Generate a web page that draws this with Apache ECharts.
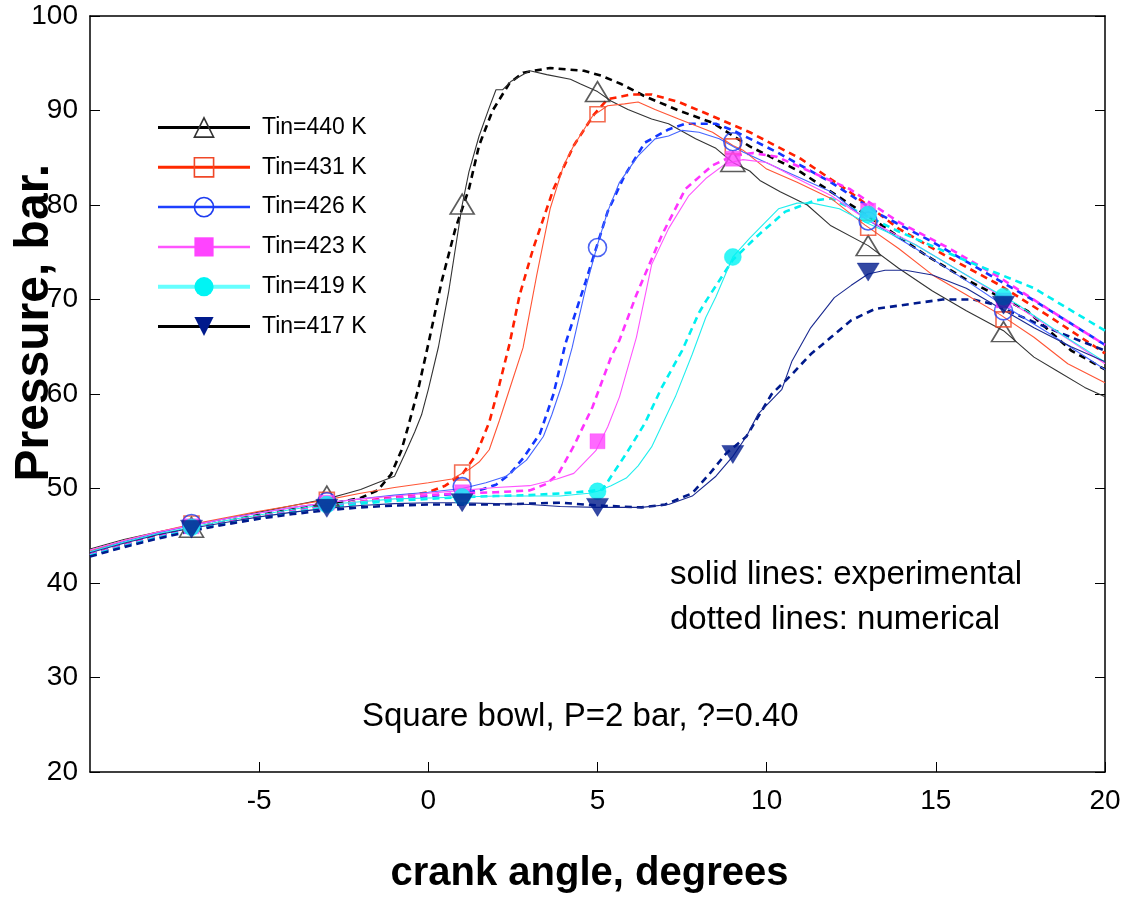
<!DOCTYPE html>
<html>
<head>
<meta charset="utf-8">
<script src="https://cdn.jsdelivr.net/npm/echarts@6/dist/echarts.min.js"></script>
<style>
html,body{margin:0;padding:0;background:#fff;}
#chart{width:1128px;height:899px;}
</style>
</head>
<body>
<div id="chart"></div>
<script>
// ---------- DATA ----------
const seriesNames = ['Tin=440 K','Tin=431 K','Tin=426 K','Tin=423 K','Tin=419 K','Tin=417 K'];
const markerAngles = [-7,-3,1,5,9,13,17];

// experimental (solid lines) [crank angle, pressure]
const exp440 = [[-10,43.6],[-9,44.6],[-8,45.4],[-7,46.1],[-6,46.8],[-5,47.5],[-4,48.2],[-3,48.9],[-2.5,49.4],[-2,49.9],[-1.5,50.6],[-1,51.3],[-0.7,53.6],[-0.4,56],[-0.2,57.8],[0,60.5],[0.3,65],[0.6,70.8],[1,80],[1.2,83.5],[1.5,87.3],[1.8,90.3],[2,92.2],[2.2,92.2],[2.45,93.1],[3,94.2],[3.5,93.8],[4.2,93.3],[4.5,92.8],[5,92],[5.4,91],[5.9,90.1],[6.6,89.1],[7.1,88.6],[7.9,87],[8.5,86],[9,84.5],[9.5,83.6],[9.8,82.6],[10.4,81.4],[11.2,80],[11.9,77.8],[13,75.7],[13.9,73.3],[14.9,70.9],[15.9,68.8],[17,66.7],[17.9,63.9],[18.6,62.4],[19.4,60.7],[20,59.7]];
const exp431 = [[-10,43.4],[-9,44.5],[-8,45.4],[-7,46.2],[-6,46.9],[-5,47.6],[-4,48.2],[-3,48.8],[-2,49.5],[-1,50.1],[0,50.6],[0.7,51.0],[1.2,52.0],[1.5,52.8],[1.8,54.1],[2.1,57.2],[2.4,60.5],[2.8,64.9],[3.2,72.5],[3.6,79.6],[4.0,84.2],[4.3,86.3],[4.85,89.4],[5.3,90.5],[5.8,90.7],[6.2,90.9],[6.7,90.1],[7.4,89.1],[8.4,87.7],[9,86.3],[9.3,85.8],[10,83.8],[10.9,82.4],[11.9,80.7],[12.9,77.9],[13.9,75.4],[14.9,72.6],[15.9,70.5],[16.9,68.4],[17.9,66],[18.9,63.2],[20,61.2]];
const exp426 = [[-10,43.3],[-9,44.4],[-8,45.3],[-7,46.1],[-6,46.8],[-5,47.4],[-4,48.0],[-3,48.5],[-2,48.9],[-1,49.3],[0,49.6],[1,50.0],[1.7,50.6],[2.3,51.3],[2.9,53.0],[3.4,55.5],[3.65,57.8],[3.95,61],[4.25,64.9],[4.65,71.2],[5,75.8],[5.3,79.3],[5.65,82.4],[6.2,85.2],[6.7,87],[7.1,87.3],[7.5,87.9],[8,87.7],[8.6,87.0],[9.3,85.6],[10.4,83.8],[11.9,81.4],[12.9,78.6],[14.4,75.4],[15.9,72.0],[16.9,69.6],[18.4,66.3],[20,62.6]];
const exp423 = [[-10,43.5],[-9,44.5],[-8,45.4],[-7,46.1],[-6,46.8],[-5,47.4],[-4,48.0],[-3,48.5],[-2,48.9],[-1,49.2],[0,49.5],[1,49.8],[2,50.1],[3,50.3],[3.8,51.0],[4.3,51.6],[4.95,54],[5.3,56.5],[5.65,59.7],[6.15,66],[6.6,73.7],[7.1,77.5],[7.7,81],[8.2,82.8],[8.8,84.4],[9.3,84.8],[10,84.5],[10.9,82.8],[11.9,81],[12.9,78.6],[14.4,75.8],[15.9,72.6],[16.9,70.4],[18.4,67],[20,63.2]];
const exp419 = [[-10,43.3],[-9,44.3],[-8,45.2],[-7,45.9],[-6,46.6],[-5,47.2],[-4,47.8],[-3,48.3],[-2,48.6],[-1,48.9],[0,49.0],[1,49.1],[2,49.2],[3,49.2],[3.9,49.2],[4.75,49.5],[5,49.7],[5.4,50.3],[5.85,51.1],[6.2,52.4],[6.6,54.4],[7.3,59.7],[7.8,64.2],[8.2,68.1],[8.5,70.3],[9,74.5],[9.5,76.5],[10.35,79.6],[10.9,80.2],[11.35,80.2],[12.15,79.6],[12.9,78.2],[14.4,75.8],[15.9,72.6],[17.4,69.5],[18.85,66],[20,63.4]];
const exp417 = [[-10,43.2],[-9,44.2],[-8,45.1],[-7,45.8],[-6,46.4],[-5,47.0],[-4,47.5],[-3,47.9],[-2,48.2],[-1,48.4],[0,48.5],[1,48.5],[2,48.4],[3,48.3],[3.9,48.1],[5,48.0],[6.3,48.0],[7.1,48.3],[7.8,49.2],[8.5,51.3],[9,53.4],[9.4,55.5],[9.75,57.9],[10.45,60.5],[10.75,63.5],[11.3,67],[12.0,70.2],[12.5,71.5],[13,72.7],[13.5,73.1],[14.1,73.1],[14.9,72.6],[15.9,71.2],[16.7,69.5],[17.9,67.0],[19,65.0],[20,63.4]];

// numerical (dashed lines)
const num440 = [[-10,43.0],[-9,44.0],[-8,45.0],[-7,45.8],[-6,46.5],[-5,47.2],[-4,47.8],[-3,48.3],[-2,49.0],[-1.5,49.8],[-1.1,51.5],[-0.8,54],[-0.6,56.5],[-0.3,60.5],[0,65.3],[0.4,72],[0.8,77.5],[1.2,81.7],[1.5,86.3],[1.9,90],[2.4,92.9],[2.8,94],[3.6,94.5],[4.6,94.2],[5.1,93.7],[5.7,92.8],[6.4,91.5],[7.4,90],[8.4,88.7],[9.5,86.2],[11,83.5],[12.2,80.7],[13.3,78.1],[14.7,74.7],[15.9,72.1],[17.7,68.8],[19,64.6],[20,62.6]];
const num431 = [[-10,42.9],[-9,44.0],[-8,44.9],[-7,45.7],[-6,46.4],[-5,47.0],[-4,47.6],[-3,48.1],[-2,48.6],[-1,49.1],[0,49.6],[0.5,50.3],[1,51.5],[1.4,53.5],[1.8,57],[2.1,61],[2.4,65.3],[2.7,70.5],[3.1,75.4],[3.7,81.7],[4.3,86.3],[4.9,89.6],[5.3,91.2],[6,91.7],[6.6,91.7],[7.4,90.9],[8.4,89.4],[9.5,87.7],[11,84.9],[12.45,81.4],[13.9,77.5],[15.4,74.4],[16.9,71.5],[18.4,68.1],[20,64.3]];
const num426 = [[-10,42.9],[-9,43.9],[-8,44.8],[-7,45.6],[-6,46.3],[-5,46.9],[-4,47.5],[-3,48.0],[-2,48.5],[-1,48.9],[0,49.2],[1,49.5],[1.5,49.8],[2,50.4],[2.4,51.5],[2.8,53.2],[3.3,55.8],[3.7,60],[4.05,65.3],[4.65,71.9],[5.3,79.3],[5.8,83.1],[6.4,86.6],[7.1,88],[7.6,88.6],[8.5,88.6],[9,87.9],[10.3,85.6],[11.9,82.4],[13.4,78.9],[14.9,76.1],[16.4,73],[17.9,69.9],[20,65.2]];
const num423 = [[-10,43.0],[-9,44.0],[-8,44.9],[-7,45.7],[-6,46.4],[-5,47.0],[-4,47.6],[-3,48.1],[-2,48.6],[-1,49.0],[0,49.3],[1,49.5],[2,49.6],[3,49.8],[3.5,50.5],[3.85,51.6],[4.3,54.5],[4.85,58.6],[5.4,63.9],[5.65,65.7],[6.15,70.5],[6.9,76.8],[7.6,81.7],[8.4,84.2],[9,85.2],[9.6,85.5],[10.3,85.1],[12.45,81.7],[13.9,78.2],[15.4,75.4],[16.9,72.3],[18.4,68.8],[20,65.2]];
const num419 = [[-10,42.9],[-9,43.9],[-8,44.8],[-7,45.6],[-6,46.3],[-5,46.9],[-4,47.5],[-3,48.0],[-2,48.4],[-1,48.7],[0,48.9],[1,49.1],[2,49.2],[3,49.3],[4,49.5],[4.7,49.7],[5.15,49.9],[5.5,51.8],[5.85,53.7],[6.4,56.9],[6.9,60.7],[7.5,64.6],[8.0,68.6],[8.2,69.8],[9,74.2],[9.75,76.8],[10.55,79.3],[11.45,80.5],[11.9,80.7],[13.9,77.2],[15.9,74.1],[17.9,71.2],[20,66.7]];
const num417 = [[-10,42.8],[-9,43.8],[-8,44.7],[-7,45.5],[-6,46.2],[-5,46.8],[-4,47.3],[-3,47.7],[-2,48.0],[-1,48.2],[0,48.3],[1,48.3],[2,48.3],[3,48.4],[3.9,48.5],[5,48.2],[6.3,48.0],[7.0,48.3],[7.8,49.5],[8.3,51.5],[8.8,53.7],[9.4,55.5],[10.15,60],[10.75,62.1],[11.3,64.2],[11.9,66],[12.5,67.8],[13.2,69],[14.2,69.5],[15.2,70],[16.1,70],[16.7,69.5],[17.9,67.6],[19,66],[20,64.6]];

// marker values at markerAngles
const mk440 = [45.9,49.2,80.1,92.0,84.6,75.7,66.6];
const mk431 = [46.3,48.8,51.7,89.6,86.2,77.6,67.9];
const mk426 = [46.3,48.6,50.2,75.5,86.7,78.3,68.8];
const mk423 = [46.0,48.5,49.6,55.0,84.9,79.4,69.9];
const mk419 = [45.9,48.3,49.1,49.7,74.5,79.0,70.3];
const mk417 = [45.7,47.9,48.5,48.0,53.6,72.9,69.4];

const xTicks = {min:-10, max:20, interval:5};
const yTicks = {min:20, max:100, interval:10};

// ---------- STYLE ----------
const FONT = 'Liberation Sans, Arial, sans-serif';
const downTri = 'path://M0,0 L10,0 L5,9 Z';
const styles = [
  {solid:'#333333', dash:'#000000', mark:'#333333', symbol:'triangle', size:[24,20], open:true,  legendLine:'#000000', legendW:3},
  {solid:'#FF5535', dash:'#FF2000', mark:'#F04828', symbol:'rect',     size:[15,15], open:true,  legendLine:'#FF2A00', legendW:3},
  {solid:'#4565FF', dash:'#1235FF', mark:'#1E3CF0', symbol:'circle',   size:[18,18], open:true,  legendLine:'#1E40FF', legendW:2.5},
  {solid:'#FF55FF', dash:'#FF33FF', mark:'#FF44FF', symbol:'rect',     size:[15,15], open:false, legendLine:'#FF55FF', legendW:2.5},
  {solid:'#22EEEE', dash:'#00F0F0', mark:'#00F4F4', symbol:'circle',   size:[17,17], open:false, legendLine:'#66FFFF', legendW:4},
  {solid:'#1A2A90', dash:'#001A8C', mark:'#001A8C', symbol:downTri,    size:[22,18], open:false, legendLine:'#000000', legendW:3}
];
const expData = [exp440, exp431, exp426, exp423, exp419, exp417];
const numData = [num440, num431, num426, num423, num419, num417];
const mkData = [mk440, mk431, mk426, mk423, mk419, mk417];

const series = [];
numData.forEach((d, i) => {
  series.push({
    name: seriesNames[i] + ' (numerical)', type: 'line', data: d,
    showSymbol: false, symbol: 'none', z: 2,
    lineStyle: {color: styles[i].dash, width: 2.6, type: [7, 5]},
    silent: true, animation: false
  });
});
expData.forEach((d, i) => {
  series.push({
    name: seriesNames[i], type: 'line', data: d,
    symbol: styles[i].symbol, showSymbol: false, z: 3,
    itemStyle: {color: styles[i].mark},
    lineStyle: {color: styles[i].solid, width: 1.1},
    silent: true, animation: false
  });
});
mkData.forEach((vals, i) => {
  const s = styles[i];
  series.push({
    name: seriesNames[i] + ' markers', type: 'scatter',
    data: markerAngles.map((a, k) => [a, vals[k]]),
    symbol: s.symbol, symbolSize: s.size, z: 5 + i,
    itemStyle: s.open ? {color: 'rgba(255,255,255,0)', borderColor: s.mark, borderWidth: 1.6}
                      : {color: s.mark, borderColor: s.mark, borderWidth: 0.5},
    silent: true, animation: false
  });
});

const legendData = seriesNames.map((n, i) => {
  const s = styles[i];
  return {
    name: n,
    lineStyle: {color: s.legendLine, width: s.legendW, type: 'solid'},
    itemStyle: s.open ? {color: 'rgba(255,255,255,0)', borderColor: s.mark, borderWidth: 1.6}
                      : {color: s.mark, borderColor: s.mark, borderWidth: 0}
  };
});

const chart = echarts.init(document.getElementById('chart'), null, {renderer: 'canvas'});
chart.setOption({
  backgroundColor: '#ffffff',
  animation: false,
  grid: {left: 90, right: 23, top: 16, bottom: 121, containLabel: false},
  legend: {
    orient: 'vertical', left: 151, top: 111,
    itemWidth: 92, itemHeight: 24, itemGap: 16.8,
    textStyle: {fontSize: 23, fontFamily: FONT, color: '#000', padding: [0, 0, 0, 7]},
    data: legendData,
    selectedMode: false
  },
  xAxis: [{
    type: 'value', min: xTicks.min, max: xTicks.max, interval: xTicks.interval,
    position: 'bottom',
    name: 'crank angle, degrees', nameLocation: 'middle', nameGap: 82,
    nameTextStyle: {fontSize: 40, fontWeight: 'bold', fontFamily: FONT, color: '#000', padding: [0, 16, 0, 0]},
    axisLine: {show: true, onZero: false, lineStyle: {color: '#000', width: 1.5}},
    axisTick: {show: true, inside: true, length: 10, lineStyle: {color: '#000', width: 1}},
    axisLabel: {show: true, showMinLabel: false, fontSize: 28, fontFamily: FONT, color: '#000', margin: 15},
    splitLine: {show: false}
  }, {
    type: 'value', min: xTicks.min, max: xTicks.max, interval: xTicks.interval,
    position: 'top',
    axisLine: {show: true, onZero: false, lineStyle: {color: '#000', width: 1.5}},
    axisTick: {show: false}, axisLabel: {show: false}, splitLine: {show: false}
  }],
  yAxis: [{
    type: 'value', min: yTicks.min, max: yTicks.max, interval: yTicks.interval,
    position: 'left',
    axisLine: {show: true, onZero: false, lineStyle: {color: '#000', width: 1.5}},
    axisTick: {show: true, inside: true, length: 10, lineStyle: {color: '#000', width: 1}},
    axisLabel: {show: true, fontSize: 28, fontFamily: FONT, color: '#000', margin: 12},
    splitLine: {show: false}
  }, {
    type: 'value', min: yTicks.min, max: yTicks.max, interval: yTicks.interval,
    position: 'right',
    axisLine: {show: true, onZero: false, lineStyle: {color: '#000', width: 1.5}},
    axisTick: {show: true, inside: true, length: 10, lineStyle: {color: '#000', width: 1}},
    axisLabel: {show: false}, splitLine: {show: false}
  }],
  graphic: [
    {type: 'text', left: 11, top: 164, rotation: Math.PI / 2, silent: true,
     style: {text: 'Pressure, bar.', fontSize: 48, fontWeight: 'bold', fontFamily: FONT, fill: '#000'}},
    {type: 'text', left: 670, top: 558, silent: true,
     style: {text: 'solid lines: experimental', fontSize: 33, fontFamily: FONT, fill: '#000'}},
    {type: 'text', left: 670, top: 603, silent: true,
     style: {text: 'dotted lines: numerical', fontSize: 33, fontFamily: FONT, fill: '#000'}},
    {type: 'text', left: 362, top: 700, silent: true,
     style: {text: 'Square bowl, P=2 bar, ?=0.40', fontSize: 33, fontFamily: FONT, fill: '#000'}}
  ],
  series: series
});
</script>
</body>
</html>
